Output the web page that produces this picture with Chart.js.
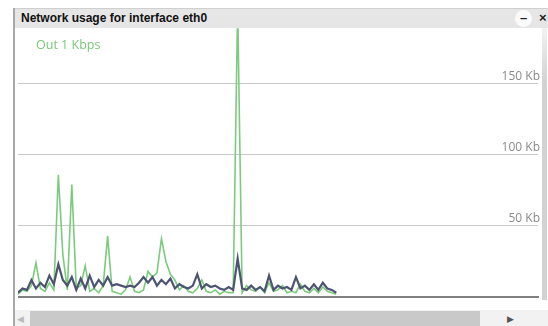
<!DOCTYPE html>
<html lang="en">
<head>
<meta charset="UTF-8">
<title>Network usage for interface eth0</title>
<script src="https://cdn.jsdelivr.net/npm/chart.js"></script>
<style>
    body { margin: 0; width: 548px; height: 326px; overflow: hidden; background: #fff; font-family: "Liberation Sans", Arial, sans-serif; }
    #win { position: absolute; left: 13px; top: 8px; width: 540px; height: 320px; border-left: 2px solid #a8a8a8; }
    #titlebar { position: absolute; left: 0; top: 0; width: 540px; height: 20px; background: #e6e6e6; border-top: 1px solid #cfcfcf; box-sizing: border-box; z-index: 2; }
    #titlebar span { position: absolute; left: 6px; top: 2px; font-weight: bold; font-size: 12px; color: #111; }
    #minbtn { position: absolute; left: 500px; top: 1px; width: 17px; height: 17px; border-radius: 9px; background: #fafafa; font: bold 13px "Liberation Sans"; text-align: center; line-height: 16px; color: #222; }
    #closebtn { position: absolute; left: 524px; top: 1px; font: bold 13px "Liberation Sans"; color: #222; }
    #chartbox { position: absolute; left: 3px; top: 11px; width: 524px; height: 291px; }
    #legend { position: absolute; left: 21px; top: 28px; font-size: 12.5px; color: #79c779; font-family: "Open Sans", sans-serif; }
    #vstrip { position: absolute; left: 527px; top: 20px; width: 5px; height: 272px; background: linear-gradient(#f2f2f2, #d2d2d2 20%, #d2d2d2); }
    #hscroll { position: absolute; left: 0; top: 302px; width: 540px; height: 18px; background: #f2f2f2; }
    #thumb { position: absolute; left: 15px; top: 1px; width: 450px; height: 17px; background: #c9c9c9; }
    #larr { position: absolute; left: 2px; top: 4px; font-size: 9px; color: #bbb; }
    #rarr { position: absolute; left: 492px; top: 4px; font-size: 9px; color: #555; }
</style>
</head>
<body>
<div id="win">
    <div id="titlebar"><span>Network usage for interface eth0</span><div id="minbtn">–</div><div id="closebtn">×</div></div>
    <div id="chartbox"><canvas id="chart"></canvas></div>
    <div id="legend">Out 1 Kbps</div>
    <div id="vstrip"></div>
    <div id="hscroll"><div id="larr">◀</div><div id="thumb"></div><div id="rarr">▶</div></div>
</div>
<script>
    // samples in Kb, one every tick of the sampler
    const outKb = [2, 5, 4, 8, 24, 6, 4, 10, 5, 86, 30, 5, 79, 6, 8, 22, 4, 6, 3, 8,
        43, 4, 3, 2, 5, 14, 4, 3, 5, 18, 14, 17, 41, 25, 16, 12, 5, 8, 4, 3,
        6, 12, 4, 3, 5, 2, 4, 3, 3, 205, 3, 8, 5, 4, 7, 3, 10, 4, 5, 8,
        3, 4, 3, 9, 4, 3, 6, 3, 7, 4, 3, 2];
    const inKb = [3, 6, 5, 12, 6, 10, 7, 15, 9, 23, 12, 8, 14, 5, 13, 6, 15, 7, 12, 8,
        14, 8, 9, 8, 7, 8, 7, 10, 14, 10, 14, 8, 12, 9, 13, 6, 9, 7, 6, 8,
        16, 6, 9, 7, 8, 6, 5, 7, 5, 27, 6, 5, 8, 5, 7, 4, 15, 5, 8, 6,
        7, 5, 14, 6, 8, 5, 9, 5, 10, 6, 5, 3];
    const yTicks = [50, 100, 150];
    const windowSize = 116;   // samples visible in the window
    const yMax = 189;

    const toPoints = arr => arr.map((v, i) => ({ x: i, y: v }));

    new Chart(document.getElementById("chart"), {
        type: "line",
        data: {
            datasets: [
                { label: "In", data: toPoints(inKb), borderColor: "#4d5472", borderWidth: 2.2, pointRadius: 0, tension: 0 },
                { label: "Out", data: toPoints(outKb), borderColor: "#7ccb7c", borderWidth: 1.6, pointRadius: 0, tension: 0 }
            ]
        },
        options: {
            responsive: true,
            maintainAspectRatio: false,
            animation: false,
            layout: { padding: { left: 0, right: 0, top: 0, bottom: 13 } },
            plugins: { legend: { display: false }, tooltip: { enabled: false } },
            scales: {
                x: {
                    type: "linear", min: 0, max: windowSize,
                    ticks: { display: false },
                    grid: { display: false, drawTicks: false },
                    border: { display: true, color: "#808080", width: 2 }
                },
                y: {
                    position: "right", min: 0, max: yMax,
                    afterBuildTicks: s => { s.ticks = yTicks.map(v => ({ value: v })); },
                    ticks: {
                        mirror: true, padding: 2, labelOffset: -7,
                        color: "#8a8a8a", font: { family: "Open Sans", size: 12 },
                        callback: v => v + " Kb"
                    },
                    grid: { color: "#c8c8c8", lineWidth: 1, drawTicks: false },
                    border: { display: false }
                }
            }
        }
    });
</script>
</body>
</html>
